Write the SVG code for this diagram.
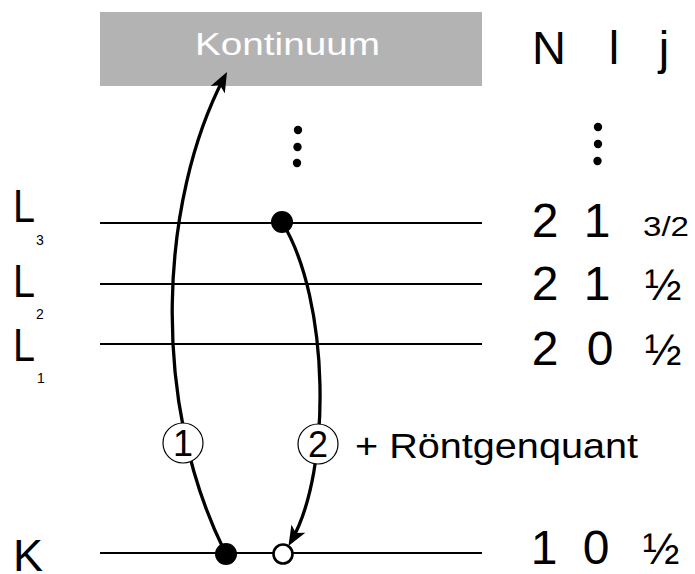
<svg xmlns="http://www.w3.org/2000/svg" width="695" height="574" viewBox="0 0 695 574">
  <style>
    text { font-family: "Liberation Sans", Arial, sans-serif; fill: #000; }
    .level { stroke: #000; stroke-width: 2; fill: none; }
    .trans { stroke: #000; stroke-width: 3.3; fill: none; }
    .tag { fill: #fff; stroke: #000; stroke-width: 1.2; }
    .tagnum { font-size: 36px; text-anchor: middle; }
    .big { font-size: 47px; }
    .num { font-size: 48px; text-anchor: middle; }
    .frac { font-size: 44px; text-anchor: middle; }
    .sub { font-size: 14px; }
  </style>
  <defs>
    <marker id="head" viewBox="0 0 20 16" refX="14" refY="8" markerWidth="20" markerHeight="16" markerUnits="userSpaceOnUse" orient="auto">
      <path d="M0,0 L20,8 L0,16 L5,8 z" fill="#000"/>
    </marker>
  </defs>

  <!-- continuum band -->
  <g id="kontinuum">
    <rect x="100" y="12" width="382" height="74" fill="#b3b3b3"/>
    <text x="287.5" y="55" font-size="31" text-anchor="middle" textLength="185" lengthAdjust="spacingAndGlyphs" style="fill:#fff">Kontinuum</text>
  </g>

  <!-- column headings -->
  <g id="header">
    <text class="num" x="549" y="64" style="font-size:47px">N</text>
    <text class="num" x="614" y="64" style="font-size:47px">l</text>
    <text class="num" x="664" y="64" style="font-size:47px">j</text>
  </g>

  <!-- vertical ellipses -->
  <g id="dots-middle" fill="#000">
    <circle cx="298" cy="130" r="4.2"/>
    <circle cx="297.5" cy="147" r="4.2"/>
    <circle cx="297" cy="163" r="4.2"/>
  </g>
  <g id="dots-right" fill="#000">
    <circle cx="598" cy="127" r="4.2"/>
    <circle cx="598" cy="144" r="4.2"/>
    <circle cx="597.5" cy="161" r="4.2"/>
  </g>

  <!-- shells -->
  <g id="shell-L3">
    <line class="level" x1="100" y1="223" x2="482" y2="223"/>
    <text class="big" x="13" y="222" textLength="22" lengthAdjust="spacingAndGlyphs">L</text>
    <text class="sub" x="36" y="245">3</text>
    <text class="num" x="545" y="237">2</text>
    <text class="num" x="597" y="237">1</text>
    <text x="666" y="236" font-size="28" text-anchor="middle" textLength="46" lengthAdjust="spacingAndGlyphs">3/2</text>
  </g>
  <g id="shell-L2">
    <line class="level" x1="100" y1="284" x2="482" y2="284"/>
    <text class="big" x="13" y="297" textLength="22" lengthAdjust="spacingAndGlyphs">L</text>
    <text class="sub" x="36" y="319">2</text>
    <text class="num" x="545" y="300">2</text>
    <text class="num" x="597" y="300">1</text>
    <text class="frac" x="663" y="300">½</text>
  </g>
  <g id="shell-L1">
    <line class="level" x1="100" y1="344" x2="482" y2="344"/>
    <text class="big" x="13" y="361" textLength="22" lengthAdjust="spacingAndGlyphs">L</text>
    <text class="sub" x="37" y="383">1</text>
    <text class="num" x="545" y="365">2</text>
    <text class="num" x="600" y="365">0</text>
    <text class="frac" x="663" y="365">½</text>
  </g>
  <g id="shell-K">
    <line class="level" x1="100" y1="553" x2="482" y2="553"/>
    <text class="big" x="13" y="571" style="font-size:45px">K</text>
    <text class="num" x="544" y="564">1</text>
    <text class="num" x="596" y="564">0</text>
    <text class="frac" x="661" y="564">½</text>
  </g>

  <!-- transitions -->
  <g id="connectors">
    <path class="trans" d="M224,550 C150,400 160,200 224.2,77.3" marker-end="url(#head)"/>
    <path class="trans" d="M282,222 C330,300 332,470 291.4,540.8" marker-end="url(#head)"/>
  </g>

  <!-- electron and hole -->
  <g id="electron-L3"><circle cx="282" cy="222" r="11" fill="#000"/></g>
  <g id="electron-K"><circle cx="226" cy="554" r="11" fill="#000"/></g>
  <g id="hole-K"><circle cx="283" cy="554" r="9.5" fill="#fff" stroke="#000" stroke-width="2.6"/></g>

  <!-- step markers -->
  <g id="step-1">
    <circle class="tag" cx="183" cy="443" r="20"/>
    <text class="tagnum" x="183" y="456">1</text>
  </g>
  <g id="step-2">
    <circle class="tag" cx="318" cy="444" r="20"/>
    <text class="tagnum" x="318" y="457">2</text>
    <text x="355" y="458" font-size="35" textLength="283" lengthAdjust="spacingAndGlyphs">+ Röntgenquant</text>
  </g>
</svg>
